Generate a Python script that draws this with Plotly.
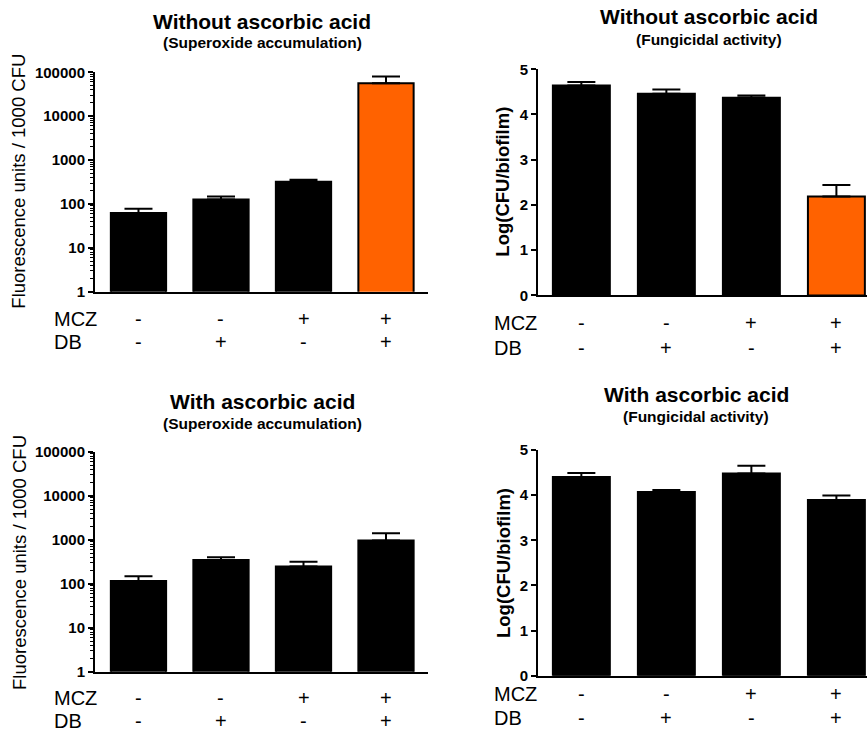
import plotly.graph_objects as go

# ---------------- data ----------------
categories = ["MCZ- DB-", "MCZ- DB+", "MCZ+ DB-", "MCZ+ DB+"]
mcz_signs = ["-", "-", "+", "+"]
db_signs = ["-", "+", "-", "+"]
row_labels = ["MCZ", "DB"]

# Without ascorbic acid - superoxide accumulation (fluorescence units / 1000 CFU)
sox_without_mean = [62, 127, 322, 56000]
sox_without_err = [16, 20, 36, 24000]
# Without ascorbic acid - fungicidal activity (log CFU/biofilm)
fung_without_mean = [4.64, 4.46, 4.37, 2.19]
fung_without_err = [0.08, 0.09, 0.05, 0.25]
# With ascorbic acid - superoxide accumulation
sox_with_mean = [116, 350, 247, 964]
sox_with_err = [33, 54, 73, 458]
# With ascorbic acid - fungicidal activity
fung_with_mean = [4.40, 4.07, 4.48, 3.89]
fung_with_err = [0.09, 0.04, 0.17, 0.10]

log_tickvals = [1, 10, 100, 1000, 10000, 100000]
log_ticktext = ["1", "10", "100", "1000", "10000", "100000"]
lin_tickvals = [0, 1, 2, 3, 4, 5]
lin_ticktext = ["0", "1", "2", "3", "4", "5"]

titles = ["Without ascorbic acid", "Without ascorbic acid", "With ascorbic acid", "With ascorbic acid"]
subtitles = ["(Superoxide accumulation)", "(Fungicidal activity)", "(Superoxide accumulation)", "(Fungicidal activity)"]
ytitles = ["Fluorescence units / 1000 CFU", "Log(CFU/biofilm)", "Fluorescence units / 1000 CFU", "Log(CFU/biofilm)"]

BLACK = "#000000"
ORANGE = "#FF6200"
FONT = "Liberation Sans, Arial, sans-serif"

W, H = 867, 736
Y_OFF, Y_SCALE = 9.5, 0.976  # empirical correction of the vertical placement


def fx(p):
    return p / W


def fy(p):
    return 1 - ((p - Y_OFF) / Y_SCALE) / H


panels = [
    dict(mean=sox_without_mean, err=sox_without_err, colors=[BLACK, BLACK, BLACK, ORANGE], log=True,
         xpx=(95, 428), ypx=(72.7, 292), xr=(-0.527, 3.509), title_px=(262, 22, 43),
         ytitle_px=(19, 182), lab_x=52, rows_y=(319, 342)),
    dict(mean=fung_without_mean, err=fung_without_err, colors=[BLACK, BLACK, BLACK, ORANGE], log=False,
         xpx=(538, 867), ypx=(69.7, 295.7), xr=(-0.51, 3.36), title_px=(709, 17, 39.5),
         ytitle_px=(503, 182), lab_x=492, rows_y=(323, 348)),
    dict(mean=sox_with_mean, err=sox_with_err, colors=[BLACK] * 4, log=True,
         xpx=(95, 428), ypx=(452, 671.7), xr=(-0.527, 3.509), title_px=(262, 402, 423.5),
         ytitle_px=(19, 563), lab_x=52, rows_y=(698, 721)),
    dict(mean=fung_with_mean, err=fung_with_err, colors=[BLACK] * 4, log=False,
         xpx=(538, 867), ypx=(450, 675.7), xr=(-0.51, 3.36), title_px=(696, 395, 417),
         ytitle_px=(503, 563), lab_x=492, rows_y=(694, 718)),
]

fig = go.Figure()
annotations = []
layout = {}

for i, p in enumerate(panels):
    n = i + 1
    xa = "x" if n == 1 else f"x{n}"
    ya = "y" if n == 1 else f"y{n}"
    fig.add_trace(go.Bar(
        x=categories, y=p["mean"], xaxis=xa, yaxis=ya,
        marker=dict(color=p["colors"], line=dict(color=BLACK, width=2)),
        width=0.67,
        error_y=dict(type="data", array=p["err"], arrayminus=[0] * 4, symmetric=False,
                     color=BLACK, thickness=2, width=14),
        showlegend=False, hoverinfo="skip",
    ))
    xkey = "xaxis" if n == 1 else f"xaxis{n}"
    ykey = "yaxis" if n == 1 else f"yaxis{n}"
    layout[xkey] = dict(
        domain=[fx(p["xpx"][0]), fx(p["xpx"][1])], anchor=ya, type="category",
        range=list(p["xr"]), showline=True, linecolor=BLACK, linewidth=2,
        ticks="", showticklabels=False, showgrid=False, zeroline=False, fixedrange=True,
    )
    yax = dict(
        domain=[fy(p["ypx"][1]), fy(p["ypx"][0])], anchor=xa,
        showline=True, linecolor=BLACK, linewidth=2, ticks="outside", ticklen=5, tickwidth=2,
        tickcolor=BLACK, showgrid=False, zeroline=False, tickmode="array",
        tickfont=dict(family=FONT, size=15, color=BLACK), fixedrange=True,
    )
    if p["log"]:
        yax.update(type="log", range=[0, 5], tickvals=log_tickvals,
                   ticktext=[f"<b>{t}</b>" for t in log_ticktext],
                   minor=dict(ticks="outside", ticklen=3, tickwidth=1, tickcolor=BLACK, dtick="D1"))
    else:
        yax.update(type="linear", range=[0, 5], tickvals=lin_tickvals,
                   ticktext=[f"<b>{t}</b>" for t in lin_ticktext])
    layout[ykey] = yax

    # titles
    tx, ty1, ty2 = p["title_px"]
    annotations.append(dict(text=f"<b>{titles[i]}</b>", x=fx(tx), y=fy(ty1), xref="paper", yref="paper",
                            showarrow=False, xanchor="center", yanchor="middle",
                            font=dict(family=FONT, size=21, color=BLACK)))
    annotations.append(dict(text=f"<b>{subtitles[i]}</b>", x=fx(tx), y=fy(ty2), xref="paper", yref="paper",
                            showarrow=False, xanchor="center", yanchor="middle",
                            font=dict(family=FONT, size=15.5, color=BLACK)))
    # y title
    yx, yy = p["ytitle_px"]
    bold = not p["log"]
    annotations.append(dict(text=(f"<b>{ytitles[i]}</b>" if bold else ytitles[i]), x=fx(yx), y=fy(yy),
                            xref="paper", yref="paper", showarrow=False, textangle=-90,
                            xanchor="center", yanchor="middle",
                            font=dict(family=FONT, size=18.5, color=BLACK)))
    # row labels + signs
    for r, (lab, signs) in enumerate(zip(row_labels, [mcz_signs, db_signs])):
        ry = fy(p["rows_y"][r])
        annotations.append(dict(text=lab, x=fx(p["lab_x"]), y=ry, xref="paper", yref="paper",
                                showarrow=False, xanchor="left", yanchor="middle",
                                font=dict(family=FONT, size=20, color=BLACK)))
        for c, s in zip(categories, signs):
            annotations.append(dict(text=s, x=c, y=ry, xref=xa, yref="paper",
                                    showarrow=False, xanchor="center", yanchor="middle",
                                    font=dict(family=FONT, size=20, color=BLACK)))

fig.update_layout(
    width=W, height=H, autosize=False, margin=dict(l=0, r=0, t=0, b=0),
    paper_bgcolor="white", plot_bgcolor="white",
    annotations=annotations, bargap=0.3, **layout,
)

fig.write_html(
    "out.html",
    config={"responsive": False, "displayModeBar": False},
    post_script=(
        "document.documentElement.style.margin='0';"
        "document.body.style.margin='0';"
        "document.documentElement.style.overflow='hidden';"
        "document.body.style.overflow='hidden';"
        "var gd=document.getElementById('{plot_id}');"
        "gd.style.position='fixed';gd.style.top='0px';gd.style.left='0px';"
    ),
)
